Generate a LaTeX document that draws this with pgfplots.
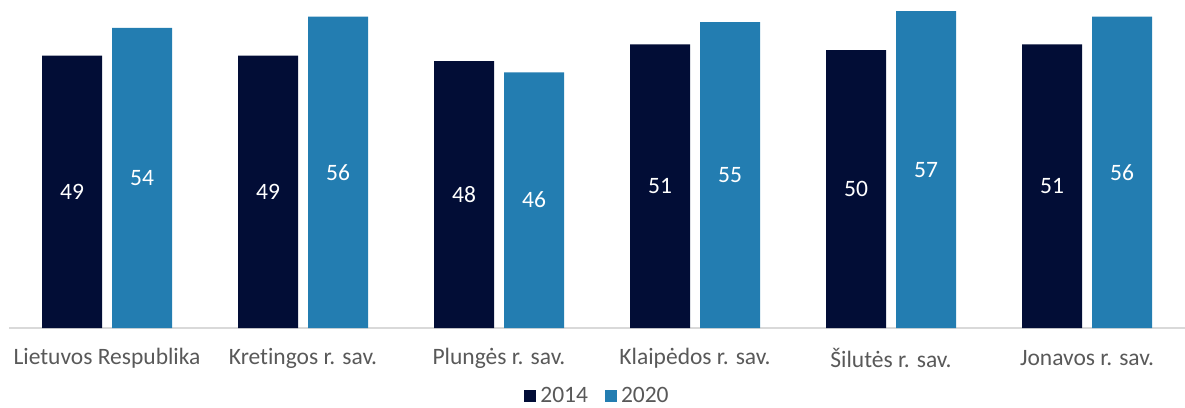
\documentclass[border=0pt]{standalone}
\usepackage{fontspec}
\setmainfont{Carlito}[Ligatures=NoCommon]
\usepackage{pgfplots}
\pgfplotsset{compat=1.18}

\definecolor{navy}{HTML}{020D36}
\definecolor{steel}{HTML}{237DB1}
\definecolor{txt}{HTML}{595959}
\definecolor{axisgray}{HTML}{D9D9D9}

\begin{document}
\begin{tikzpicture}
\useasboundingbox (-9pt,-79pt) rectangle (1176pt,328pt);
\begin{axis}[
  scale only axis,
  width=1176pt, height=328pt,
  ybar, bar width=60pt,
  ymin=0, ymax=59,
  xmin=-0.5, xmax=5.5,
  axis x line*=bottom,
  axis y line=none,
  x axis line style={draw=axisgray, line width=1.5pt},
  xtick=data,
  xticklabels={Lietuvos Respublika, Kretingos r. sav., Plungės r. sav., Klaipėdos r. sav., Šilutės r. sav., Jonavos r. sav.},
  major tick length=0pt,
  xticklabel style={font=\fontsize{23.5}{28}\selectfont, text=txt, anchor=center, yshift=-30pt},
  /pgf/number format/assume math mode=true,
  nodes near coords,
  visualization depends on=y \as \rawy,
  every node near coord/.append style={font=\fontsize{23.5}{28}\selectfont, text=white, anchor=center, shift={(axis direction cs:0,-\rawy/2)}},
  legend columns=2,
  legend style={draw=none, inner sep=0pt, at={(axis description cs:0.5,0)}, anchor=center, yshift=-68pt,
    font=\fontsize{23.5}{28}\selectfont, text=txt,
    nodes={inner sep=1pt},
    /tikz/every odd column/.append style={column sep=3pt},
    /tikz/every even column/.append style={column sep=16pt}},
  legend image code/.code={\fill[#1] (0pt,-6pt) rectangle (12pt,6pt);},
]
\addplot[draw=none, fill=navy, bar shift=-35pt] coordinates {(0,49) (1,49) (2,48) (3,51) (4,50) (5,51)};
\addlegendentry{2014}
\addplot[draw=none, fill=steel, bar shift=35pt] coordinates {(0,54) (1,56) (2,46) (3,55) (4,57) (5,56)};
\addlegendentry{2020}
\end{axis}
\end{tikzpicture}
\end{document}
